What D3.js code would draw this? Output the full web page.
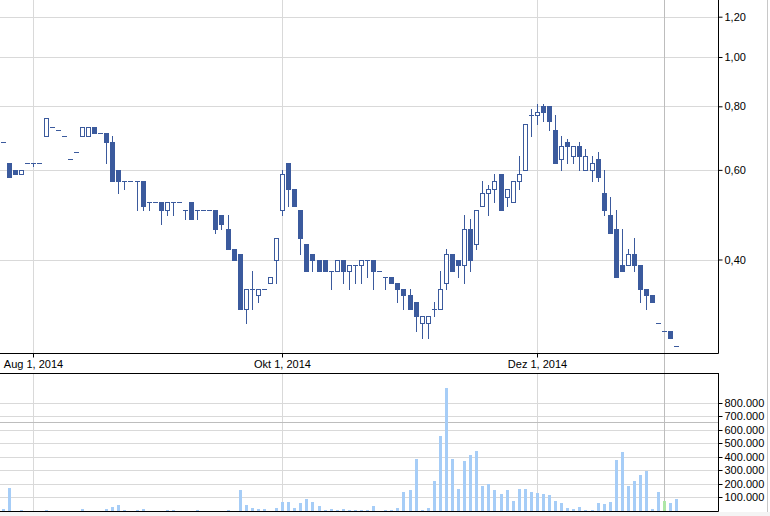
<!DOCTYPE html>
<html><head><meta charset="utf-8">
<script src="https://cdn.jsdelivr.net/npm/d3@7"></script>
<style>
html,body{margin:0;padding:0;background:#fff;}
svg{display:block;}
text{font-family:"Liberation Sans",Arial,sans-serif;font-size:11px;fill:#000;}
</style></head>
<body>
<svg id="c" width="770" height="516"></svg>
<script>
const dates = ["2014-07-25","2014-07-28","2014-07-29","2014-07-30","2014-07-31",
"2014-08-01","2014-08-04","2014-08-05","2014-08-06","2014-08-07","2014-08-08",
"2014-08-11","2014-08-12","2014-08-13","2014-08-14",
"2014-08-18","2014-08-19","2014-08-20","2014-08-21","2014-08-22",
"2014-08-25","2014-08-26","2014-08-27","2014-08-28","2014-08-29",
"2014-09-01","2014-09-02","2014-09-03","2014-09-04","2014-09-05",
"2014-09-08","2014-09-09","2014-09-10","2014-09-11",
"2014-09-15","2014-09-16","2014-09-17","2014-09-18","2014-09-19",
"2014-09-22","2014-09-23","2014-09-24","2014-09-25","2014-09-26",
"2014-09-29","2014-09-30","2014-10-01","2014-10-02",
"2014-10-06","2014-10-07","2014-10-08","2014-10-09","2014-10-10",
"2014-10-13","2014-10-14","2014-10-15","2014-10-16","2014-10-17",
"2014-10-20","2014-10-21","2014-10-22","2014-10-23","2014-10-24",
"2014-10-27","2014-10-28","2014-10-29","2014-10-30","2014-10-31",
"2014-11-03","2014-11-04","2014-11-05","2014-11-06","2014-11-07",
"2014-11-10","2014-11-11","2014-11-12","2014-11-13","2014-11-14",
"2014-11-17","2014-11-18","2014-11-19","2014-11-20","2014-11-21",
"2014-11-24","2014-11-25","2014-11-26","2014-11-27","2014-11-28",
"2014-12-01","2014-12-02","2014-12-03","2014-12-04","2014-12-05",
"2014-12-08","2014-12-09","2014-12-10","2014-12-11","2014-12-12",
"2014-12-15","2014-12-16","2014-12-17","2014-12-18","2014-12-19",
"2014-12-22","2014-12-23","2014-12-29","2014-12-30",
"2015-01-02","2015-01-05","2015-01-06","2015-01-07","2015-01-08"];

const open  = [.68,.62,.60,.59,.62,.62,.62,.70,.73,.72,.70,.63,.65,.70,.70,.73,.71,.71,.68,.60,
.57,.57,.57,.57,.52,.52,.52,.50,.52,.52,.50,.52,.50,.50,.50,.50,.49,.46,.42,.41,
.32,.35,.34,.35,.36,.40,.50,.62,.55,.50,.43,.41,.40,.40,.38,.38,.40,.38,.39,.39,
.40,.40,.38,.37,.37,.36,.35,.34,.33,.30,.30,.32,.32,.36,.41,.40,.39,.46,.43,.51,
.54,.55,.59,.53,.52,.57,.60,.77,.77,.80,.80,.72,.63,.68,.64,.67,.60,.60,.63,.54,
.49,.46,.39,.39,.41,.39,.35,.34,.30,.29,.29,.27];
const high  = [.68,.62,.60,.60,.62,.62,.62,.76,.73,.72,.70,.63,.65,.73,.73,.73,.71,.71,.70,.60,
.57,.57,.57,.57,.52,.52,.52,.52,.52,.52,.50,.52,.50,.50,.50,.50,.49,.49,.42,.41,
.35,.38,.35,.35,.37,.44,.60,.62,.55,.50,.43,.41,.40,.40,.38,.40,.40,.39,.39,.40,
.40,.40,.38,.37,.37,.36,.35,.35,.33,.31,.31,.33,.38,.42,.41,.40,.49,.48,.50,.57,
.56,.59,.59,.55,.57,.64,.74,.79,.81,.81,.80,.77,.70,.69,.67,.68,.66,.64,.65,.60,
.53,.50,.46,.42,.44,.39,.35,.34,.30,.29,.29,.27];
const low   = [.68,.58,.59,.59,.62,.61,.62,.70,.73,.72,.70,.63,.65,.70,.70,.71,.71,.62,.57,.54,
.55,.57,.50,.50,.50,.52,.47,.49,.49,.52,.48,.48,.48,.50,.50,.45,.46,.42,.40,.32,
.30,.32,.33,.35,.36,.36,.49,.51,.51,.41,.38,.38,.38,.38,.35,.38,.36,.35,.36,.36,
.37,.35,.38,.35,.36,.33,.32,.32,.29,.28,.28,.31,.32,.35,.38,.37,.36,.38,.42,.51,
.49,.52,.50,.51,.52,.55,.60,.70,.74,.75,.72,.62,.60,.62,.62,.60,.60,.57,.57,.49,
.45,.37,.38,.39,.38,.33,.32,.33,.30,.29,.28,.27];
const close = [.68,.58,.59,.60,.62,.62,.62,.76,.73,.72,.70,.63,.65,.73,.73,.71,.71,.68,.57,.57,
.57,.57,.57,.51,.52,.52,.50,.52,.52,.52,.50,.48,.50,.50,.50,.46,.47,.42,.40,.32,
.35,.35,.35,.35,.37,.44,.59,.55,.51,.44,.38,.40,.38,.38,.38,.40,.38,.39,.39,.40,
.40,.38,.38,.37,.36,.35,.34,.32,.31,.31,.31,.32,.35,.41,.38,.39,.46,.40,.50,.54,
.55,.57,.50,.55,.57,.59,.74,.77,.78,.78,.75,.62,.67,.67,.67,.64,.64,.62,.58,.50,
.45,.37,.38,.41,.39,.35,.34,.33,.30,.29,.28,.27];
const volume = [15,169,0,6,0,0,0,6,0,0, 0,0,0,13,0,0,0,13,28,43, 6,0,6,13,0,0,0,6,6,0,
0,0,6,0,0,0,0,6,0,154, 43,21,13,13,0,21,65,65,21,58, 87,65,36,6,13,6,13,6,6,6,
6,36,0,6,6,21,139,154,383,6, 21,220,553,909,383,161,368,413,443,184,
198,154,124,154,72,161,161,139,132,124, 117,72,58,21,13,28,6,6,58,50,
65,376,435,184,220,265,295,13,139,72, 58,87].map(v => v * 1000);

const priceTicks = [0.4, 0.6, 0.8, 1.0, 1.2];
const volumeTicks = [100000,200000,300000,400000,500000,600000,700000,800000];
const dateTicks = ["2014-08-01","2014-10-01","2014-12-01"];
const dateTickLabels = ["Aug 1, 2014","Okt 1, 2014","Dez 1, 2014"];
const cursorDate = "2015-01-06";

const svg = d3.select("#c");
const W = 770, H = 516, R = 718;
const mainTop = 0, mainBot = 353, volTop = 373, volBot = 511;
const blue = "#3b5a9d", volBlue = "#a6cdf7", grid = "#d9d9d9", cursor = "#bdbdbd";

svg.append("rect").attr("width", W).attr("height", H).attr("fill", "#fff");
svg.append("rect").attr("x", 0).attr("y", 512).attr("width", W).attr("height", 4).attr("fill", "#f4f4f4");

const x = d3.scaleBand().domain(dates).range([0.5, 680]).padding(0);
const bw = x.bandwidth();
const cx = d => x(d) + bw / 2;
const y = d3.scaleLog().domain([0.4, 1.2]).range([259.5, 16.7]);
const yv = d3.scaleLinear().domain([0, 800000]).range([510.8, 402.7]);

// gridlines main
const gMain = svg.append("g");
gMain.selectAll("line.h").data(priceTicks).enter().append("line")
  .attr("x1", 0).attr("x2", R).attr("y1", d => Math.round(y(d)) + 0.5).attr("y2", d => Math.round(y(d)) + 0.5)
  .attr("stroke", grid);
gMain.selectAll("line.v").data(dateTicks).enter().append("line")
  .attr("x1", d => Math.floor(cx(d)) + 0.5).attr("x2", d => Math.floor(cx(d)) + 0.5)
  .attr("y1", mainTop).attr("y2", mainBot).attr("stroke", grid);
// gridlines volume
const gVol = svg.append("g");
gVol.selectAll("line.h").data(volumeTicks).enter().append("line")
  .attr("x1", 0).attr("x2", R).attr("y1", d => Math.round(yv(d)) + 0.5).attr("y2", d => Math.round(yv(d)) + 0.5)
  .attr("stroke", grid);
gVol.selectAll("line.v").data(dateTicks).enter().append("line")
  .attr("x1", d => Math.floor(cx(d)) + 0.5).attr("x2", d => Math.floor(cx(d)) + 0.5)
  .attr("y1", volTop).attr("y2", volBot).attr("stroke", grid);

// cursor lines
const curX = Math.floor(cx(cursorDate)) + 0.5;
svg.append("line").attr("x1", curX).attr("x2", curX).attr("y1", 0).attr("y2", volBot).attr("stroke", cursor);
svg.append("line").attr("x1", 0).attr("x2", R).attr("y1", 422.5).attr("y2", 422.5).attr("stroke", cursor);

// volume bars
const bars = dates.map((d, i) => ({d, v: volume[i]})).filter(e => e.v > 0);
svg.append("g").selectAll("rect").data(bars).enter().append("rect")
  .attr("x", e => Math.round(cx(e.d) - 1.5))
  .attr("width", 3)
  .attr("y", e => Math.round(yv(e.v)))
  .attr("height", e => volBot - Math.round(yv(e.v)))
  .attr("fill", e => e.d === cursorDate ? "#ade6a6" : volBlue);

// candles
const candles = dates.map((d, i) => ({d, o: open[i], h: high[i], l: low[i], c: close[i]}));
const gc = svg.append("g");
candles.forEach(k => {
  const left = Math.round(cx(k.d) - 2.5);
  const yo = Math.round(y(k.o)), yc = Math.round(y(k.c)), yh = Math.round(y(k.h)), yl = Math.round(y(k.l));
  if (yl > yh) gc.append("rect").attr("x", left + 2).attr("y", yh).attr("width", 1).attr("height", yl - yh + 1).attr("fill", blue);
  if (k.o === k.c) {
    gc.append("rect").attr("x", left).attr("y", yo).attr("width", 5).attr("height", 1).attr("fill", blue);
  } else if (k.c < k.o) {
    gc.append("rect").attr("x", left).attr("y", yo).attr("width", 5).attr("height", Math.max(1, yc - yo + 1)).attr("fill", blue);
  } else {
    gc.append("rect").attr("x", left + 0.5).attr("y", yc + 0.5).attr("width", 4).attr("height", Math.max(1, yo - yc))
      .attr("fill", "#fff").attr("stroke", blue).attr("stroke-width", 1);
  }
});

// frames
const frame = svg.append("g").attr("stroke", "#000").attr("fill", "none");
frame.append("line").attr("x1", 0).attr("x2", R + 0.5).attr("y1", mainBot + 0.5).attr("y2", mainBot + 0.5);
frame.append("line").attr("x1", 0).attr("x2", R + 0.5).attr("y1", volTop + 0.5).attr("y2", volTop + 0.5);

// axes
const fmtP = d => d.toFixed(2).replace(".", ",");
const axP = svg.append("g").attr("transform", `translate(${R + 0.5},0)`)
  .call(d3.axisRight(y).tickValues(priceTicks).tickFormat(fmtP).tickSize(4).tickSizeOuter(0).tickPadding(2));
axP.select(".domain").attr("d", `M0,${mainTop}V${mainBot + 0.5}`);

const de = d3.formatLocale({decimal: ",", thousands: ".", grouping: [3], currency: ["", " €"]});
const axV = svg.append("g").attr("transform", `translate(${R + 0.5},0)`)
  .call(d3.axisRight(yv).tickValues(volumeTicks).tickFormat(de.format(",d")).tickSize(4).tickSizeOuter(0).tickPadding(2));
axV.select(".domain").attr("d", `M0,${volTop}V${volBot + 0.5}`);
axV.selectAll(".tick").attr("transform", d => `translate(0,${Math.round(yv(d)) + 0.5})`);

const axX = svg.append("g").attr("transform", `translate(0,${mainBot + 0.5})`)
  .call(d3.axisBottom(x).tickValues(dateTicks).tickFormat((d, i) => dateTickLabels[i]).tickSize(4).tickSizeOuter(0).tickPadding(3));
axX.select(".domain").remove();
axX.selectAll(".tick").attr("transform", d => `translate(${Math.floor(cx(d)) + 0.5},0)`);

const axB = svg.append("line").attr("x1", 0).attr("x2", R + 0.5).attr("y1", volBot + 0.5).attr("y2", volBot + 0.5).attr("stroke", "#000");

svg.selectAll(".tick text").style("font-family", '"Liberation Sans",Arial,sans-serif').style("font-size", "11px").attr("fill", "#000");
svg.selectAll(".tick line").attr("stroke", "#000");
svg.selectAll(".domain").attr("stroke", "#000");

// window edge
svg.append("line").attr("x1", 767.5).attr("x2", 767.5).attr("y1", 0).attr("y2", 512).attr("stroke", "#c8c8c8");
</script>
</body></html>
